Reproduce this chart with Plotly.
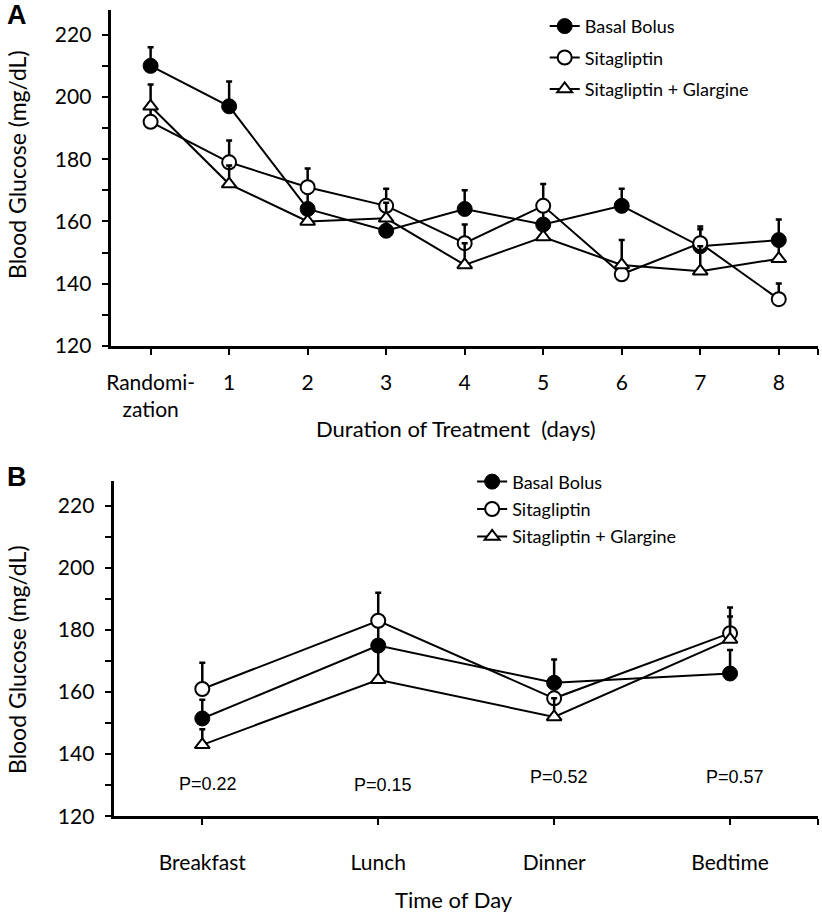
import plotly.graph_objects as go

# ---------------- Data ----------------
days_labels = ["Randomi-<br>zation", "1", "2", "3", "4", "5", "6", "7", "8"]
days_x = [0, 1, 2, 3, 4, 5, 6, 7, 8]

a_basal = [210, 197, 164, 157, 164, 159, 165, 152, 154]
a_basal_err = [6, 8, 5, 5, 6, 5, 5.5, 5.5, 6.6]
a_sita = [192, 179, 171, 165, 153, 165, 143, 153, 135]
a_sita_err = [5, 7, 6, 5.5, 6, 7, 3, 5.4, 5]
a_glar = [197, 172, 160, 161, 146, 155, 146, 144, 148]
a_glar_err = [7, 6, 4, 5, 7, 4, 8, 8, 5]

times = ["Breakfast", "Lunch", "Dinner", "Bedtime"]
times_x = [0, 1, 2, 3]
b_basal = [151.5, 175, 163, 166]
b_basal_err = [6, 8, 7.5, 7.6]
b_sita = [161, 183, 158, 179]
b_sita_err = [8.5, 9, 5, 8.3]
b_glar = [143, 164, 152, 177]
b_glar_err = [5, 10, 6, 7.4]

p_labels = ["P=0.22", "P=0.15", "P=0.52", "P=0.57"]
p_y = [130.5, 130, 132.7, 132.7]

series_names = ["Basal Bolus", "Sitagliptin", "Sitagliptin + Glargine"]
y_ticks = [120, 140, 160, 180, 200, 220]

# ---------------- Styles ----------------
FONT = "Lato"
W, H = 822, 924
styles = [
    dict(symbol="circle", size=15, color="black", line=dict(color="black", width=1)),
    dict(symbol="circle", size=14, color="white", line=dict(color="black", width=2)),
    dict(symbol="triangle-up", size=13, color="white", line=dict(color="black", width=2)),
]

fig = go.Figure()

def add_series(x, y, err, name, style, xa, ya, legend, group):
    fig.add_trace(go.Scatter(
        x=x, y=y, name=name, mode="lines+markers",
        line=dict(color="black", width=2),
        marker=style,
        error_y=dict(type="data", array=err, arrayminus=[0] * len(err), symmetric=False,
                     color="black", thickness=2.5, width=3),
        xaxis=xa, yaxis=ya, legend=legend, legendgroup=group, showlegend=True,
        cliponaxis=False,
    ))

A_data = [(a_basal, a_basal_err), (a_sita, a_sita_err), (a_glar, a_glar_err)]
B_data = [(b_basal, b_basal_err), (b_sita, b_sita_err), (b_glar, b_glar_err)]
for i, (y, e) in enumerate(A_data):
    add_series(days_x, y, e, series_names[i], styles[i], "x", "y", "legend", "a%d" % i)
for i, (y, e) in enumerate(B_data):
    add_series(times_x, y, e, series_names[i], styles[i], "x2", "y2", "legend2", "b%d" % i)

tickfont = dict(family=FONT, size=21, color="black")
yaxis_common = dict(
    range=[120, 228], tickvals=y_ticks, ticks="outside", ticklen=7, tickwidth=2,
    tickcolor="black", showline=True, linecolor="black", linewidth=2.5,
    showgrid=False, zeroline=False, tickfont=tickfont, ticklabelstandoff=6,
    minor=dict(dtick=10, tick0=120, ticks="outside", ticklen=7, tickwidth=2,
               tickcolor="black", showgrid=False),
)
xaxis_common = dict(
    ticks="outside", ticklen=6, tickwidth=2, tickcolor="black", showline=True,
    linecolor="black", linewidth=2.5, showgrid=False, zeroline=False,
    tickfont=tickfont,
)

fig.update_layout(
    width=W, height=H, margin=dict(l=0, r=0, t=0, b=0),
    paper_bgcolor="white", plot_bgcolor="white",
    font=dict(family=FONT, color="black"),
    xaxis=dict(domain=[107 / W, 818 / W], range=[-0.5, 8.5],
               tickvals=days_x + [8.5], ticktext=days_labels + [""],
               anchor="y", ticklabelstandoff=10, **xaxis_common),
    yaxis=dict(domain=[(H - 350) / H, (H - 10) / H], anchor="x", **yaxis_common),
    xaxis2=dict(domain=[110 / W, 818 / W], range=[-0.5, 3.5],
                tickvals=times_x + [3.5], ticktext=times + [""],
                anchor="y2", ticklabelstandoff=20, **xaxis_common),
    yaxis2=dict(domain=[(H - 826) / H, (H - 487) / H], anchor="x2", **yaxis_common),
    legend=dict(x=543 / W, y=(H - 8) / H, xanchor="left", yanchor="top",
                font=dict(family=FONT, size=18, color="black"),
                bgcolor="rgba(0,0,0,0)", traceorder="grouped", tracegroupgap=5),
    legend2=dict(x=470 / W, y=(H - 469) / H, xanchor="left", yanchor="top",
                 font=dict(family=FONT, size=18, color="black"),
                 bgcolor="rgba(0,0,0,0)", traceorder="grouped", tracegroupgap=1),
)

annotations = [
    dict(text="<b>A</b>", x=0 / W, y=(H + 2) / H, xref="paper", yref="paper",
         xanchor="left", yanchor="top", showarrow=False,
         font=dict(family="Liberation Sans", size=27, color="black")),
    dict(text="<b>B</b>", x=0 / W, y=(H - 466) / H, xref="paper", yref="paper",
         xanchor="left", yanchor="top", showarrow=False,
         font=dict(family="Liberation Sans", size=27, color="black")),
    dict(text="Blood Glucose (mg/dL)", x=12 / W, y=(H - 166) / H, xref="paper", yref="paper",
         xanchor="center", yanchor="middle", textangle=-90, showarrow=False,
         font=dict(family=FONT, size=23, color="black")),
    dict(text="Blood Glucose (mg/dL)", x=12 / W, y=(H - 667) / H, xref="paper", yref="paper",
         xanchor="center", yanchor="middle", textangle=-90, showarrow=False,
         font=dict(family=FONT, size=23, color="black")),
    dict(text="Duration of Treatment  (days)", x=454 / W, y=(H - 434) / H,
         xref="paper", yref="paper", xanchor="center", yanchor="middle", showarrow=False,
         font=dict(family=FONT, size=22, color="black")),
    dict(text="Time of Day", x=452 / W, y=(H - 910) / H,
         xref="paper", yref="paper", xanchor="center", yanchor="middle", showarrow=False,
         font=dict(family=FONT, size=22, color="black")),
]
for xi, lab, py in zip(times_x, p_labels, p_y):
    annotations.append(dict(text=lab, x=xi + 0.03, y=py, xref="x2", yref="y2",
                            xanchor="center", yanchor="middle", showarrow=False,
                            font=dict(family="Liberation Sans", size=18, color="black")))
fig.update_layout(annotations=annotations)

fig.write_html("out.html", config={"displayModeBar": False},
               post_script="document.body.style.margin='0px';")
